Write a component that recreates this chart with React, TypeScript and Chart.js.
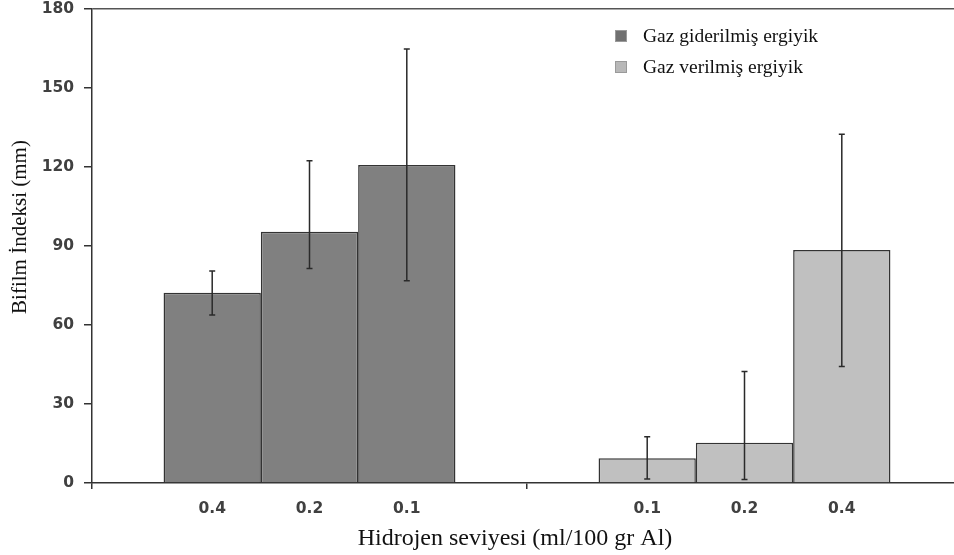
import React, { useEffect, useRef } from "react";
import { Chart, registerables } from "chart.js";

Chart.register(...registerables);

// ---- data ----
const groups = ["Gaz giderilmiş ergiyik", "Gaz verilmiş ergiyik"];
const hydrogenLabels = [
  ["0.4", "0.2", "0.1"],
  ["0.1", "0.2", "0.4"],
];
const degassedMeans = [72.2, 95.4, 120.8];
const degassedLow = [63.8, 81.5, 76.8];
const degassedHigh = [80.5, 122.4, 164.8];
const gassedMeans = [9.4, 15.3, 88.5];
const gassedLow = [1.5, 1.3, 44.2];
const gassedHigh = [17.6, 42.3, 132.4];
const yTicks = [0, 30, 60, 90, 120, 150, 180];
const groupColors = ["#808080", "#c0c0c0"];
const yTitle = "Bifilm İndeksi (mm)";
const xTitle = "Hidrojen seviyesi (ml/100 gr Al)";

const CW = 975;
const CH = 555;

export default function App() {
  const ref = useRef<HTMLCanvasElement | null>(null);

  useEffect(() => {
    const canvas = ref.current;
    if (!canvas) return;

    const datasets = [0, 1, 2].map((i) => ({
      label: "slot" + (i + 1),
      data: [degassedMeans[i], gassedMeans[i]],
      backgroundColor: groupColors,
      borderColor: "#333333",
      borderWidth: 1.5,
      barPercentage: 1.0,
      categoryPercentage: 0.671,
    }));

    const lows = [degassedLow, gassedLow];
    const highs = [degassedHigh, gassedHigh];

    const overlay = {
      id: "overlay",
      afterDatasetsDraw(chart: any) {
        const ctx = chart.ctx;
        const y = chart.scales.y;
        ctx.save();
        // error bars
        ctx.strokeStyle = "#2a2a2a";
        ctx.lineWidth = 1.5;
        for (let i = 0; i < 3; i++) {
          const meta = chart.getDatasetMeta(i);
          meta.data.forEach((bar: any, g: number) => {
            const x = bar.x;
            const yl = y.getPixelForValue(lows[g][i]);
            const yh = y.getPixelForValue(highs[g][i]);
            ctx.beginPath();
            ctx.moveTo(x, yl);
            ctx.lineTo(x, yh);
            ctx.moveTo(x - 3, yl);
            ctx.lineTo(x + 3, yl);
            ctx.moveTo(x - 3, yh);
            ctx.lineTo(x + 3, yh);
            ctx.stroke();
          });
        }
        // hydrogen labels under bars
        ctx.fillStyle = "#404040";
        ctx.font = "bold 15.5px 'DejaVu Sans'";
        ctx.textAlign = "center";
        ctx.textBaseline = "middle";
        for (let i = 0; i < 3; i++) {
          const meta = chart.getDatasetMeta(i);
          meta.data.forEach((bar: any, g: number) => {
            ctx.fillText(hydrogenLabels[g][i], bar.x, 509);
          });
        }
        // axis titles
        ctx.fillStyle = "#111111";
        ctx.textAlign = "center";
        ctx.textBaseline = "middle";
        ctx.font = "24px 'Liberation Serif'";
        ctx.fillText(xTitle, 515, 539);
        ctx.save();
        ctx.font = "21px 'Liberation Serif'";
        ctx.translate(20, 227);
        ctx.rotate(-Math.PI / 2);
        ctx.fillText(yTitle, 0, 0);
        ctx.restore();
        // legend
        ctx.font = "19.5px 'Liberation Serif'";
        ctx.textAlign = "left";
        groups.forEach((name, g) => {
          const ly = 36 + g * 31;
          ctx.fillStyle = g === 0 ? "#707070" : "#b8b8b8";
          ctx.fillRect(615, ly - 6, 12, 12);
          ctx.strokeStyle = "#9a9a9a";
          ctx.lineWidth = 1;
          ctx.strokeRect(615.5, ly - 5.5, 11, 11);
          ctx.fillStyle = "#111111";
          ctx.fillText(name, 643, ly + 1);
        });
        ctx.restore();
      },
    };

    const chart = new Chart(canvas, {
      type: "bar",
      data: { labels: groups, datasets },
      options: {
        animation: false,
        responsive: false,
        devicePixelRatio: 1,
        layout: { padding: { left: 0, top: 9, right: CW - 962, bottom: 0 } },
        plugins: {
          legend: { display: false },
          tooltip: { enabled: false },
        },
        scales: {
          x: {
            type: "category",
            ticks: { display: false },
            grid: {
              offset: true,
              drawOnChartArea: false,
              drawTicks: true,
              tickLength: 6,
              color: "#333333",
              lineWidth: 1.5,
            },
            border: { color: "#333333", width: 1.5 },
            afterFit(scale: any) {
              scale.height = CH - 9 - 483 + 9;
              scale.paddingLeft = 0;
              scale.paddingRight = 0;
            },
          },
          y: {
            min: 0,
            max: 180,
            afterBuildTicks(scale: any) {
              scale.ticks = yTicks.map((v) => ({ value: v }));
            },
            ticks: {
              color: "#404040",
              font: { family: "'DejaVu Sans'", size: 15.5, weight: "bold" },
              padding: 10,
            },
            grid: {
              drawTicks: true,
              tickLength: 8,
              tickColor: "#333333",
              lineWidth: 1.5,
              color: (c: any) => (c.tick && c.tick.value === 180 ? "#555555" : "rgba(0,0,0,0)"),
            },
            border: { color: "#333333", width: 1.5 },
            afterFit(scale: any) {
              scale.width = 92;
              scale.paddingTop = 0;
              scale.paddingBottom = 0;
            },
          },
        },
      },
      plugins: [overlay],
    });

    return () => chart.destroy();
  }, []);

  return (
    <div
      style={{
        position: "fixed",
        left: 0,
        top: 0,
        width: 954,
        height: 555,
        overflow: "hidden",
        background: "#ffffff",
      }}
    >
      <canvas ref={ref} width={CW} height={CH} style={{ display: "block" }} />
    </div>
  );
}
